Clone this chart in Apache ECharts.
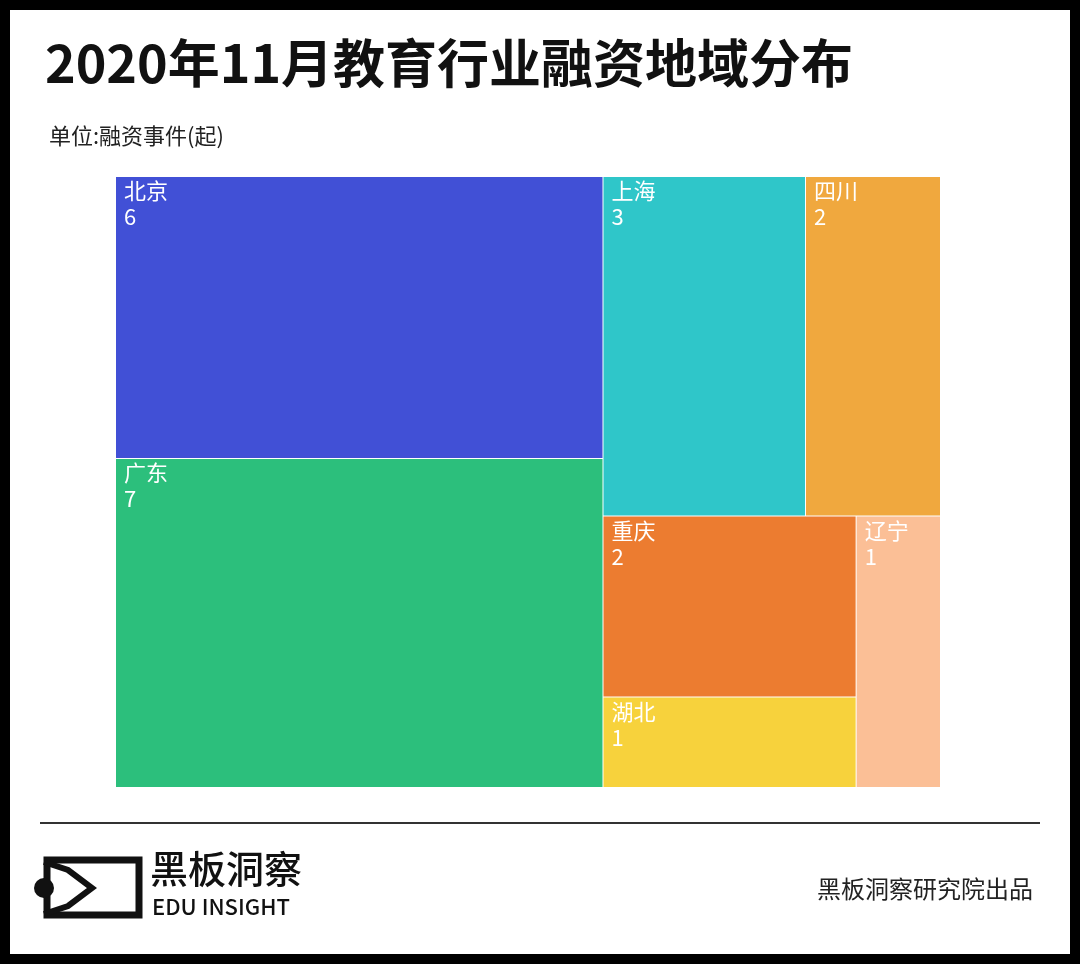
<!DOCTYPE html>
<html><head><meta charset="utf-8">
<script src="https://cdn.jsdelivr.net/npm/echarts@6/dist/echarts.min.js"></script>
<style>html,body{margin:0;padding:0;background:#000}#main{width:1080px;height:964px}</style>
</head><body><div id="main"></div>
<script>
var regions = ['北京', '广东', '上海', '四川', '重庆', '湖北', '辽宁'];
var counts = [6, 7, 3, 2, 2, 1, 1];
var colors = ['#4150d6', '#2cbf7c', '#2fc6c9', '#f0a83e', '#ec7c30', '#f7d23c', '#fbbf96'];

var chartDom = document.getElementById('main');
var myChart = echarts.init(chartDom);
var font = '"Noto Sans CJK SC", sans-serif';

var option = {
	backgroundColor: '#fff',
	title: [{
		text: '2020年11月教育行业融资地域分布',
		left: 40, top: 32,
		textStyle: {fontFamily: font, fontSize: 52, fontWeight: 'bold', color: '#111'}
	}, {
		text: '单位:融资事件(起)',
		left: 44, top: 120,
		textStyle: {fontFamily: font, fontSize: 22, fontWeight: 'normal', color: '#222'}
	}, {
		text: '黑板洞察研究院出品',
		right: 42, top: 872,
		textStyle: {fontFamily: font, fontSize: 24, fontWeight: 'normal', color: '#222'}
	}],
	graphic: [
		{type: 'rect', shape: {x: 0, y: 0, width: 1080, height: 964}, style: {fill: 'none', stroke: '#000', lineWidth: 20}, silent: true},
		{type: 'line', shape: {x1: 40, y1: 823, x2: 1040, y2: 823}, style: {stroke: '#333', lineWidth: 2}},
		{type: 'rect', shape: {x: 47, y: 860, width: 92, height: 55}, style: {fill: 'none', stroke: '#111', lineWidth: 7}},
		{type: 'polyline', shape: {points: [[44, 862], [68, 870], [92, 888], [68, 906], [44, 914]]}, style: {fill: 'none', stroke: '#111', lineWidth: 6}},
		{type: 'circle', shape: {cx: 44, cy: 888, r: 10}, style: {fill: '#111'}},
		{type: 'text', left: 150, top: 850, style: {text: '黑板洞察', font: '500 38px ' + font, fill: '#111', letterSpacing: 2}},
		{type: 'text', left: 152, top: 896, style: {text: 'EDU INSIGHT', font: '500 22px ' + font, fill: '#111', letterSpacing: 1}}
	],
	series: [{
		type: 'treemap',
		left: 116, top: 177, width: 824, height: 610,
		roam: false,
		nodeClick: false,
		sort: false,
		breadcrumb: {show: false},
		itemStyle: {borderWidth: 0, gapWidth: 1, borderColor: '#fff'},
		label: {
			show: true, position: 'insideTopLeft', offset: [3, -4],
			fontFamily: font, fontSize: 22, lineHeight: 26, color: '#fff',
			formatter: function (p) { return p.name + '\n' + p.value; }
		},
		data: regions.map(function (r, i) {
			return {name: r, value: counts[i], itemStyle: {color: colors[i]}};
		})
	}]
};

option && myChart.setOption(option);
</script></body></html>
